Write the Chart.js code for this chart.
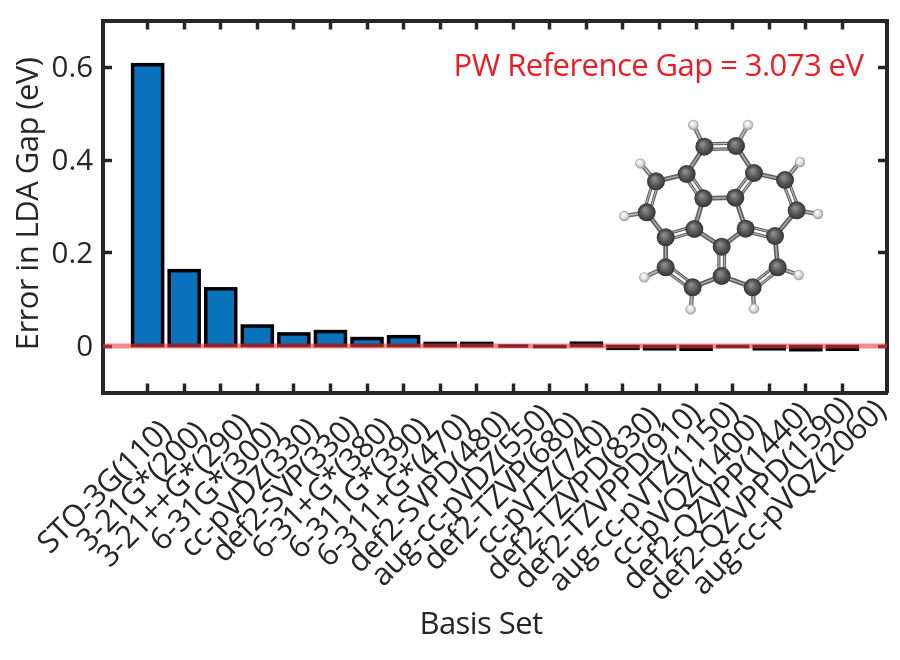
<!DOCTYPE html>
<html>
<head>
<meta charset="utf-8">
<script src="https://cdn.jsdelivr.net/npm/chart.js@4"></script>
<style>
body { margin: 0; background: #fff; }
canvas { display: block; }
</style>
</head>
<body>
<canvas id="myChart" width="900" height="660"></canvas>
<script>
const basisSets = ['STO-3G(110)', '3-21G*(200)', '3-21++G*(290)', '6-31G*(300)', 'cc-pVDZ(330)', 'def2-SVP(330)', '6-31+G*(380)', '6-311G*(390)', '6-311+G*(470)', 'def2-SVPD(480)', 'aug-cc-pVDZ(550)', 'def2-TZVP(680)', 'cc-pVTZ(740)', 'def2-TZVPD(830)', 'def2-TZVPPD(910)', 'aug-cc-pVTZ(1150)', 'cc-pVQZ(1400)', 'def2-QZVPP(1440)', 'def2-QZVPPD(1590)', 'aug-cc-pVQZ(2060)'];
const gapErrors = [0.605, 0.162, 0.123, 0.043, 0.026, 0.031, 0.016, 0.02, 0.0056, 0.0056, 0, -0.001, 0.006, -0.005, -0.006, -0.007, -0.001, -0.006, -0.008, -0.007];
const yTicks = [0, 0.2, 0.4, 0.6];
const referenceLine = 0;

// molecule inset, pixel positions
const carbons = [[313,140],[408,138],[260,222],[462,219],[310,295],[406,293],[168,244],[555,240],[140,337],[590,331],[283,387],[437,386],[197,412],[525,408],[365,440],[197,502],[533,502],[365,528],[278,562],[458,562]];
const hydrogens = [[280,75],[444,75],[121,190],[600,186],[73,348],[654,342],[133,532],[596,525],[272,628],[462,626]];
const doubleBonds = [[0,1],[2,4],[3,5],[6,8],[7,9],[10,12],[11,13],[14,17],[15,18],[16,19]];
const singleBonds = [[0,2],[1,3],[4,5],[2,6],[3,7],[8,12],[9,13],[4,10],[5,11],[10,14],[11,14],[12,15],[13,16],[18,17],[19,17]];
const hydrogenBonds = [[0,0],[1,1],[6,2],[7,3],[8,4],[9,5],[15,6],[16,7],[18,8],[19,9]];

const TEXT_COLOR = '#262626';
const AXIS_COLOR = '#262626';
const xMin = -1.22;
const xMax = 20.22;

function molPoint(p) {
    return [600 + p[0] / 3, 100 + p[1] / 3];
}

function drawBond(ctx, a, b, color, width) {
    ctx.strokeStyle = color;
    ctx.lineWidth = width;
    ctx.beginPath();
    ctx.moveTo(a[0], a[1]);
    ctx.lineTo(b[0], b[1]);
    ctx.stroke();
}

function drawAtom(ctx, p, r, light, mid, dark) {
    const g = ctx.createRadialGradient(p[0] - r * 0.2, p[1] - r * 0.3, r * 0.1, p[0], p[1], r);
    g.addColorStop(0, light);
    g.addColorStop(0.55, mid);
    g.addColorStop(1, dark);
    ctx.fillStyle = g;
    ctx.beginPath();
    ctx.arc(p[0], p[1], r, 0, Math.PI * 2);
    ctx.fill();
}

function drawMolecule(ctx) {
    ctx.save();
    hydrogenBonds.forEach(([c, h]) => {
        const a = molPoint(carbons[c]);
        const b = molPoint(hydrogens[h]);
        drawBond(ctx, a, b, '#6e6e6e', 4.4);
        drawBond(ctx, a, b, '#bdbdbd', 1.6);
    });
    singleBonds.forEach(([m, n]) => {
        const a = molPoint(carbons[m]);
        const b = molPoint(carbons[n]);
        drawBond(ctx, a, b, '#5e5e5e', 4.8);
        drawBond(ctx, a, b, '#a8a8a8', 1.6);
    });
    doubleBonds.forEach(([m, n]) => {
        const a = molPoint(carbons[m]);
        const b = molPoint(carbons[n]);
        const len = Math.hypot(b[0] - a[0], b[1] - a[1]);
        const ox = -(b[1] - a[1]) / len * 2.8;
        const oy = (b[0] - a[0]) / len * 2.8;
        [1, -1].forEach(s => {
            const a2 = [a[0] + ox * s, a[1] + oy * s];
            const b2 = [b[0] + ox * s, b[1] + oy * s];
            drawBond(ctx, a2, b2, '#5e5e5e', 3.2);
            drawBond(ctx, a2, b2, '#b8b8b8', 1.1);
        });
    });
    hydrogens.forEach(p => drawAtom(ctx, molPoint(p), 5.2, '#ffffff', '#dcdcdc', '#9a9a9a'));
    carbons.forEach(p => drawAtom(ctx, molPoint(p), 9, '#8c8c8c', '#575757', '#343434'));
    ctx.restore();
}

// bars keep their outline centred on the edge, so thin bars still show as a black line
const barOutline = {
    id: 'barOutline',
    afterDatasetDraw(chart, args) {
        if (args.index !== 0) return;
        const ctx = chart.ctx;
        ctx.save();
        ctx.strokeStyle = '#000';
        ctx.lineWidth = 3.5;
        ctx.lineJoin = 'miter';
        args.meta.data.forEach(bar => {
            const p = bar.getProps(['x', 'y', 'base', 'width'], true);
            ctx.strokeRect(p.x - p.width / 2, Math.min(p.y, p.base), p.width, Math.abs(p.base - p.y));
        });
        ctx.restore();
    }
};

// rotated tick labels: the anchor sits about 2/3 along each label, longer ones reach further right
function drawTickLabels(chart) {
    const ctx = chart.ctx;
    const scale = chart.scales.x;
    ctx.save();
    ctx.font = '31px "Open Sans"';
    ctx.letterSpacing = '-0.65px';
    ctx.fillStyle = TEXT_COLOR;
    ctx.textAlign = 'right';
    ctx.textBaseline = 'middle';
    basisSets.forEach((name, i) => {
        const dx = ctx.measureText(name).width * Math.SQRT1_2;
        const shift = dx * 0.33 - 22;
        ctx.save();
        ctx.translate(scale.getPixelForValue(i) + shift, 445 - shift);
        ctx.rotate(-Math.PI / 4);
        ctx.fillText(name, 0, 0);
        ctx.restore();
    });
    ctx.restore();
}

const overlay = {
    id: 'overlay',
    afterDraw(chart) {
        const ctx = chart.ctx;
        drawMolecule(ctx);
        drawTickLabels(chart);
        ctx.save();
        ctx.textAlign = 'center';
        ctx.textBaseline = 'middle';
        ctx.fillStyle = '#ed1c24';
        ctx.font = '31px "Open Sans"';
        ctx.letterSpacing = '-0.55px';
        ctx.fillText('PW Reference Gap = 3.073 eV', 658.5, 67);
        ctx.fillStyle = TEXT_COLOR;
        ctx.fillText('Basis Set', 481, 625.5);
        ctx.translate(29, 204);
        ctx.rotate(-Math.PI / 2);
        ctx.fillText('Error in LDA Gap (eV)', 0, 0);
        ctx.restore();
    }
};

function innerTicks() {
    return {
        drawOnChartArea: false,
        drawTicks: true,
        tickLength: -9,
        tickWidth: 3.5,
        tickColor: AXIS_COLOR,
        offset: false
    };
}

const edge = { display: true, color: AXIS_COLOR, width: 4 };

function fixSize(scale, size) {
    if (scale.isHorizontal()) scale.height = size;
    else scale.width = size;
    scale.paddingLeft = scale.paddingRight = scale.paddingTop = scale.paddingBottom = 0;
}

const ctx = document.getElementById('myChart').getContext('2d');
const myChart = new Chart(ctx, {
    type: 'bar',
    data: {
        datasets: [{
            label: 'Error in LDA Gap',
            data: gapErrors.map((v, i) => ({ x: i, y: v })),
            backgroundColor: '#0b72bd',
            borderWidth: 0,
            barThickness: 30,
            order: 2
        }, {
            type: 'line',
            label: 'Reference',
            data: [{ x: xMin, y: referenceLine }, { x: xMax, y: referenceLine }],
            borderColor: 'rgba(235, 60, 70, 0.6)',
            borderWidth: 5,
            pointRadius: 0,
            order: 1
        }]
    },
    options: {
        responsive: false,
        animation: false,
        layout: { padding: { left: 0, right: 13, top: 20.5, bottom: 0 } },
        plugins: {
            legend: { display: false },
            tooltip: { enabled: false }
        },
        scales: {
            x: {
                type: 'linear',
                position: 'bottom',
                offset: false,
                min: xMin,
                max: xMax,
                grid: innerTicks(),
                border: edge,
                afterBuildTicks: scale => { scale.ticks = basisSets.map((c, i) => ({ value: i })); },
                afterFit: scale => fixSize(scale, 660 - 392.5),
                ticks: { autoSkip: false, display: false }
            },
            x2: {
                type: 'linear',
                position: 'top',
                offset: false,
                min: xMin,
                max: xMax,
                grid: innerTicks(),
                border: edge,
                afterBuildTicks: scale => { scale.ticks = basisSets.map((c, i) => ({ value: i })); },
                afterFit: scale => fixSize(scale, 0),
                ticks: { autoSkip: false, display: false }
            },
            y: {
                min: -0.1,
                max: 0.7,
                position: 'left',
                grid: innerTicks(),
                border: edge,
                afterBuildTicks: scale => { scale.ticks = yTicks.map(v => ({ value: v })); },
                afterFit: scale => fixSize(scale, 103),
                ticks: {
                    padding: 19,
                    labelOffset: 1.5,
                    color: TEXT_COLOR,
                    font: { family: '"Open Sans"', size: 29.5 },
                    callback: value => (value === 0 ? '0' : value.toFixed(1))
                }
            },
            y2: {
                min: -0.1,
                max: 0.7,
                position: 'right',
                grid: innerTicks(),
                border: edge,
                afterBuildTicks: scale => { scale.ticks = yTicks.map(v => ({ value: v })); },
                afterFit: scale => fixSize(scale, 0),
                ticks: { display: false }
            }
        }
    },
    plugins: [barOutline, overlay]
});
</script>
</body>
</html>
